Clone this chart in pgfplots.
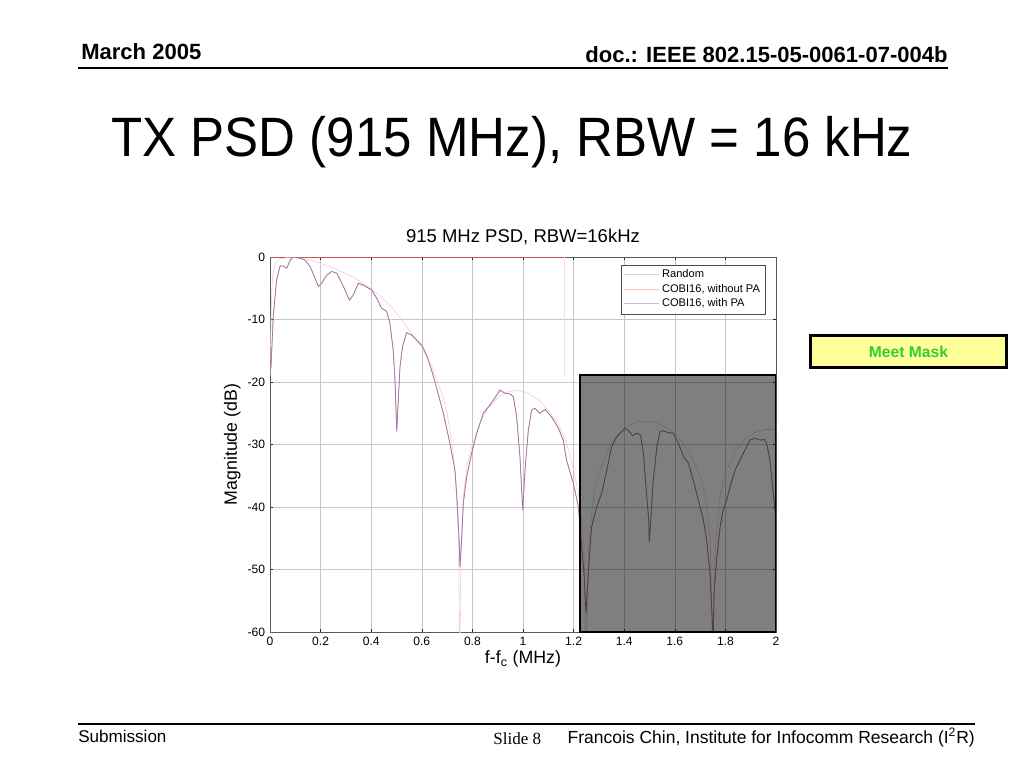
\documentclass[border=0pt]{standalone}
\usepackage{graphicx}
\usepackage{fontspec}
\setmainfont{Liberation Sans}
\newfontfamily\timesf{Liberation Serif}
\usepackage{pgfplots}
\usepackage{pgfplotstable}
\pgfplotsset{compat=1.18}

\definecolor{randc}{RGB}{238,200,230}
\definecolor{randleg}{RGB}{240,200,228}
\definecolor{nopa}{RGB}{230,170,140}
\definecolor{nopaleg}{RGB}{245,200,170}
\definecolor{withpa}{RGB}{155,118,176}
\definecolor{withpaleg}{RGB}{196,190,240}
\definecolor{maskc}{RGB}{200,80,80}
\definecolor{meetfill}{RGB}{255,255,153}
\definecolor{meettext}{RGB}{51,204,51}

\pgfplotstableread{
x y
0.000 -19
0.004 -17.5
0.013 -9.5
0.026 -3.7
0.040 -1.4
0.055 -1.5
0.066 -1.8
0.080 -0.5
0.092 0
0.119 -0.2
0.138 -0.5
0.158 -1.5
0.178 -3.4
0.191 -4.7
0.204 -4.2
0.224 -2.9
0.244 -2.3
0.264 -2.6
0.290 -4.7
0.314 -6.9
0.329 -6.1
0.349 -4.2
0.369 -4.5
0.402 -5.3
0.422 -6.6
0.441 -8.2
0.461 -8.7
0.474 -10.6
0.487 -14.9
0.494 -19.7
0.501 -27.9
0.507 -22.9
0.514 -17.5
0.524 -14.3
0.540 -12.1
0.560 -12.5
0.580 -13.3
0.600 -14.1
0.619 -15.7
0.640 -18.3
0.659 -21.0
0.685 -25.0
0.711 -29.8
0.731 -34.1
0.740 -39.4
0.748 -45.8
0.751 -49.6
0.758 -44.8
0.764 -39.4
0.777 -35.2
0.797 -31.4
0.817 -28.2
0.843 -25.0
0.863 -24.0
0.883 -22.9
0.909 -21.3
0.929 -21.8
0.949 -21.9
0.962 -22.4
0.975 -25.6
0.988 -32.0
0.999 -40.5
1.008 -34.1
1.021 -27.7
1.034 -24.5
1.047 -24.2
1.067 -25.0
1.087 -24.4
1.113 -25.6
1.140 -27.4
1.159 -29.3
1.172 -32.5
1.199 -36.2
1.219 -40.0
1.232 -46.4
1.241 -50.6
1.249 -57.0
1.258 -50.6
1.271 -43.2
1.291 -40.0
1.311 -37.8
1.331 -34.1
1.350 -30.4
1.370 -28.8
1.403 -27.4
1.416 -27.7
1.433 -28.6
1.449 -28.2
1.465 -28.5
1.476 -31.4
1.486 -36.8
1.497 -42.1
1.499 -45.6
1.505 -42.1
1.515 -35.7
1.529 -30.4
1.542 -27.9
1.555 -27.8
1.574 -28.1
1.594 -28.2
1.614 -29.8
1.634 -31.9
1.654 -33.0
1.673 -35.7
1.693 -38.9
1.713 -42.1
1.726 -45.3
1.739 -50.6
1.748 -58.1
1.752 -62
1.755 -53.8
1.765 -48.5
1.779 -43.2
1.791 -40.5
1.805 -38.9
1.818 -36.8
1.838 -34.1
1.858 -32.5
1.877 -30.9
1.897 -29.3
1.917 -29.0
1.937 -29.3
1.953 -29.2
1.963 -29.8
1.976 -32.5
1.989 -37.8
1.996 -40.5
2.000 -41
}\cobi

\pgfplotstableread{
x y
0.000 -18
0.005 -8
0.010 -3
0.020 -1
0.040 -0.3
0.080 0
0.120 -0.2
0.160 -0.5
0.200 -1.0
0.240 -1.6
0.280 -2.3
0.320 -3.0
0.360 -4.0
0.400 -5.1
0.440 -6.4
0.480 -8.0
0.520 -10.0
0.560 -12.3
0.600 -14.5
0.640 -17.5
0.680 -22
0.700 -25
0.720 -30
0.735 -36
0.745 -45
0.750 -65
0.755 -46
0.765 -38
0.780 -33
0.800 -30
0.830 -26.5
0.860 -24.3
0.900 -22.5
0.940 -21.6
0.980 -21.3
1.020 -21.8
1.060 -22.8
1.100 -24.5
1.140 -26.8
1.170 -29.5
1.200 -34
1.220 -38
1.240 -46
1.250 -65
1.260 -46
1.280 -38
1.300 -34.5
1.340 -30.5
1.380 -28.2
1.420 -26.9
1.460 -26.3
1.500 -26.3
1.540 -26.7
1.580 -27.6
1.620 -29.2
1.660 -31.5
1.700 -35
1.720 -38
1.740 -45
1.750 -65
1.760 -46
1.780 -38
1.800 -34.5
1.840 -31
1.880 -29
1.920 -28
1.960 -27.6
2.000 -27.6
}\randomtab

\begin{document}
\begin{tikzpicture}
\useasboundingbox (0pt,0pt) rectangle (720pt,-540pt);
\begin{scope}[x=0.703125pt,y=-0.703125pt]
  % header
  \node[anchor=base west, inner sep=0pt, font=\fontsize{15.5}{18}\selectfont\bfseries] at (81,60) {March 2005};
  \node[anchor=base east, inner sep=0pt, font=\fontsize{15.5}{18}\selectfont\bfseries] at (948,63) {doc.: IEEE 802.15-05-0061-07-004b};
  \draw[line width=1.4pt] (78,68) -- (948,68);
  % title
  \node[anchor=base, inner sep=0pt, font=\fontsize{39}{44}\selectfont] at (512,157) {\scalebox{0.92}[1]{TX PSD (915 MHz), RBW = 16 kHz}};
  % footer
  \draw[line width=1.4pt] (78,724) -- (975,724);
  \node[anchor=base west, inner sep=0pt, font=\fontsize{12}{14}\selectfont] at (78,742) {Submission};
  \node[anchor=base west, inner sep=0pt, font=\fontsize{12}{14}\selectfont\timesf] at (493,744) {Slide 8};
  \node[anchor=base east, inner sep=0pt, font=\fontsize{12.3}{14}\selectfont] at (975,743) {Francois Chin, Institute for Infocomm Research (I\textsuperscript{2}R)};
  % Meet Mask box
  \node[draw=black, line width=1.6pt, fill=meetfill, minimum width=196*0.703125pt, minimum height=32*0.703125pt, inner sep=0pt, font=\fontsize{11}{13}\selectfont\bfseries, text=meettext] at (908.5,351.5) {Meet Mask};
\end{scope}

\begin{axis}[
  at={(189.84375pt,-444.375pt)}, anchor=south west,
  scale only axis,
  width=355.78pt, height=263.67pt,
  xmin=0, xmax=2, ymin=-60, ymax=0,
  xtick={0,0.2,0.4,0.6,0.8,1,1.2,1.4,1.6,1.8,2},
  xticklabels={0,0.2,0.4,0.6,0.8,1,1.2,1.4,1.6,1.8,2},
  ytick={-60,-50,-40,-30,-20,-10,0},
  yticklabels={-60,-50,-40,-30,-20,-10,0},
  grid=major,
  grid style={black!22, line width=0.4pt},
  axis line style={black!65, line width=0.5pt},
  tick align=inside, major tick length=2pt,
  tick style={black!85, line width=0.4pt},
  xtick pos=both, ytick pos=both,
  ticklabel style={font=\fontsize{8.5}{10}\selectfont},
  /pgf/number format/assume math mode=true,
  title={915 MHz PSD, RBW=16kHz},
  title style={font=\fontsize{13}{15}\selectfont, yshift=-1pt},
  xlabel={f-f\textsubscript{c} (MHz)},
  ylabel={Magnitude (dB)},
  label style={font=\fontsize{12.5}{15}\selectfont},
  xlabel style={yshift=3pt},
  ylabel style={yshift=-2pt},
  legend style={at={(0.98,0.98)}, anchor=north east,
     font=\fontsize{7.8}{9.5}\selectfont, draw=black!70, fill=white,
     inner xsep=2pt, inner ysep=1.5pt, row sep=-1pt},
  legend cell align=left,
  legend image code/.code={\draw[#1] (0cm,0cm) -- (0.85cm,0cm);},
]
\addlegendimage{randleg, line width=0.6pt}
\addlegendentry{Random}
\addlegendimage{nopaleg, line width=0.6pt}
\addlegendentry{COBI16, without PA}
\addlegendimage{withpaleg, line width=0.6pt}
\addlegendentry{COBI16, with PA}

% mask
\addplot[maskc, line width=0.6pt, forget plot] coordinates {(0,0) (1.165,0)};
\addplot[maskc!18, line width=0.4pt, forget plot] coordinates {(1.165,0) (1.165,-19)};

\addplot[randc, line width=0.4pt, forget plot] table[x=x,y=y] {\randomtab};
\addplot[nopa, line width=0.5pt, forget plot] table[x=x,y=y] {\cobi};
\addplot[withpa, line width=0.5pt, forget plot] table[x=x,y=y] {\cobi};

% overlay box (mask region)
\addplot[draw=black, line width=1.2pt, fill=black, fill opacity=0.5, forget plot] coordinates {(1.225,-60) (1.225,-18.9) (2,-18.9) (2,-60)} -- cycle;
\end{axis}
\end{tikzpicture}
\end{document}
